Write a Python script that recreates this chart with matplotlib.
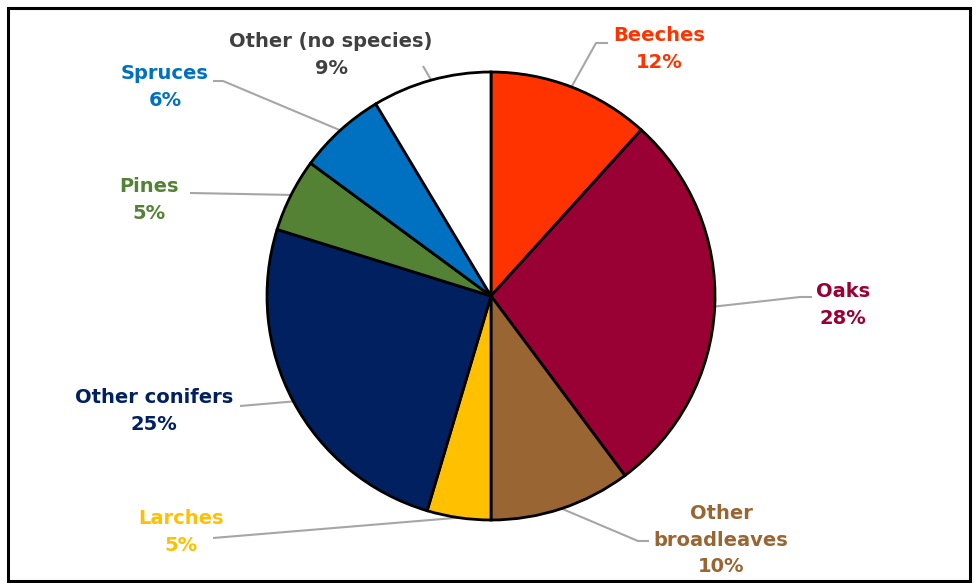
import matplotlib
matplotlib.use("Agg")
import matplotlib.pyplot as plt
from matplotlib.patches import Rectangle
import numpy as np

# shares of forest area by species group
species = ["Beeches", "Oaks", "Other\nbroadleaves", "Larches",
           "Other conifers", "Pines", "Spruces", "Other (no species)"]
shares = [11.7, 28.1, 10.2, 4.6, 25.2, 5.3, 6.3, 8.6]
slice_colors = ["#FF3300", "#990033", "#996633", "#FFC000",
                "#002060", "#548235", "#0070C0", "#FFFFFF"]
text_colors = ["#FF3300", "#990033", "#996633", "#FFC000",
               "#002060", "#548235", "#0070C0", "#404040"]

W, H = 976, 583
CX, CY, R = 491, 296, 224   # pie centre and radius in pixels

# label centre and leader path (elbow, end) in pixels
label_pos = [(659, 49), (843, 305), (721, 540), (181, 532),
             (154, 411), (149, 200), (165, 87), (331, 55)]
leader_pts = [[(596, 43), (608, 43)],
              [(800, 297), (812, 297)],
              [(638, 541), (649, 541)],
              [(213, 538)],
              [(240, 406)],
              [(190, 193)],
              [(223, 81), (213, 81)],
              [(423, 66)]]


def to_data(px, py):
    return (px - CX) / R, (CY - py) / R


fig = plt.figure(figsize=(W / 100, H / 100), dpi=100)
ax = fig.add_axes([0, 0, 1, 1])

wedges, _ = ax.pie(shares, colors=slice_colors, startangle=90,
                   counterclock=False, radius=1.0, center=(0, 0),
                   wedgeprops=dict(edgecolor="black", linewidth=2.0),
                   frame=True)
ax.set_xlim(-CX / R, (W - CX) / R)
ax.set_ylim(-(H - CY) / R, CY / R)
ax.set_aspect("auto")
ax.axis("off")

for i, w in enumerate(wedges):
    mid = np.deg2rad((w.theta1 + w.theta2) / 2)
    xs = [np.cos(mid)]
    ys = [np.sin(mid)]
    for p in leader_pts[i]:
        x, y = to_data(*p)
        xs.append(x)
        ys.append(y)
    ax.plot(xs, ys, color="#A6A6A6", lw=1.5, zorder=0.5, solid_capstyle="butt")
    lx, ly = to_data(*label_pos[i])
    ax.text(lx, ly, f"{species[i]}\n{shares[i]:.0f}%", ha="center", va="center",
            color=text_colors[i], fontsize=14, fontweight="bold",
            family="DejaVu Sans", linespacing=1.5)

fig.patches.append(Rectangle((8 / W, 2 / H), 962 / W, 573 / H, transform=fig.transFigure,
                             fill=False, edgecolor="black", linewidth=2.2))

fig.savefig("out.png", dpi=100)
